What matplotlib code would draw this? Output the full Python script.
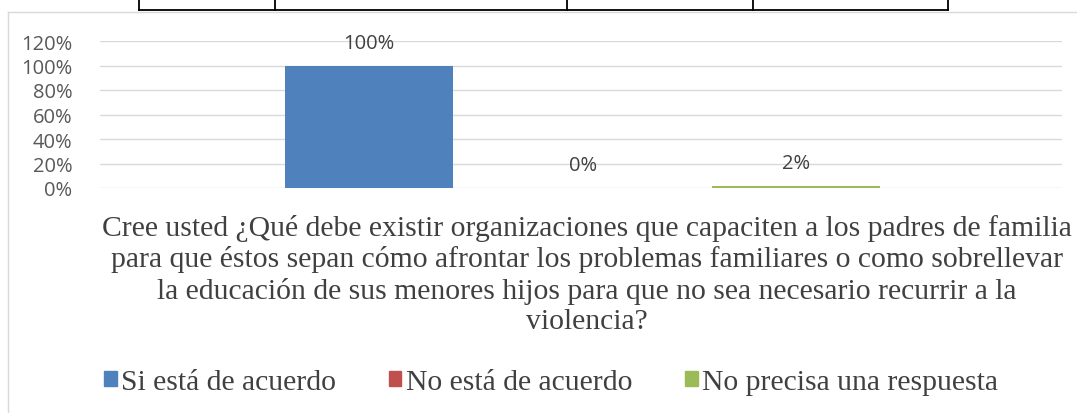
import matplotlib
matplotlib.use("Agg")
import matplotlib.pyplot as plt
from matplotlib.lines import Line2D
from matplotlib.patches import Rectangle

# data
series = ["Si está de acuerdo", "No está de acuerdo", "No precisa una respuesta"]
values = [1.00, 0.00, 0.02]
value_labels = ["100%", "0%", "2%"]
colors = ["#4f81bd", "#c0504d", "#9bbb59"]
yticks = [0, 0.2, 0.4, 0.6, 0.8, 1.0, 1.2]
ytick_labels = ["0%", "20%", "40%", "60%", "80%", "100%", "120%"]
title = ("Cree usted ¿Qué debe existir organizaciones que capaciten a los padres de familia\n"
         "para que éstos sepan cómo afrontar los problemas familiares o como sobrellevar\n"
         "la educación de sus menores hijos para que no sea necesario recurrir a la\n"
         "violencia?")

W, H = 1077, 414
fig = plt.figure(figsize=(W / 100, H / 100), dpi=100)

def fx(x):
    return x / W

def fy(y):
    return 1 - y / H

# table cell borders above the chart
fig.add_artist(Line2D([fx(139), fx(948)], [fy(11), fy(11)], color="black", lw=1.3))
for x in [139, 275, 567, 753, 948]:
    fig.add_artist(Line2D([fx(x), fx(x)], [fy(0), fy(11)], color="black", lw=1.3))

# chart frame
fig.add_artist(Line2D([fx(8), fx(1077)], [fy(13), fy(13)], color="#d9d9d9", lw=1))
fig.add_artist(Line2D([fx(8), fx(8)], [fy(13), fy(414)], color="#d9d9d9", lw=1))

ax = fig.add_axes([fx(100), fy(189), fx(1062) - fx(100), (189 - 42) / H])
x = [0, 1, 2]
bars = ax.bar(x, values, width=0.787, color=colors, label=series, zorder=3)
for xi, v, lab in zip(x, values, value_labels):
    ax.text(xi, v + 0.185, lab, ha="center", va="center", fontsize=14.5,
            color="#404040", family="Open Sans")

ax.set_xlim(-1.26, 3.245)
ax.set_ylim(0, 1.2)
ax.set_yticks(yticks)
ax.set_yticklabels(ytick_labels, family="Open Sans", fontsize=14.5, color="#595959")
ax.set_xticks([])
ax.tick_params(axis="y", length=0, pad=20)
ax.grid(axis="y", color="#d9d9d9", lw=1, zorder=0)
for s in ax.spines.values():
    s.set_visible(False)

fig.text(fx(587), fy(275), title, ha="center", va="center", multialignment="center",
         family="Liberation Serif", fontsize=21.3, color="#404040", linespacing=1.22)

handles = [Rectangle((0, 0), 1, 1, color=c) for c in colors]
fig.legend(handles, series, loc="center", bbox_to_anchor=(fx(551), fy(383)), ncol=3,
           frameon=False, prop={"family": "Liberation Serif", "size": 21.3},
           handlelength=0.42, handleheight=0.42, handletextpad=0.14, columnspacing=1.8,
           labelcolor="#404040")

fig.savefig("out.png", dpi=100)
